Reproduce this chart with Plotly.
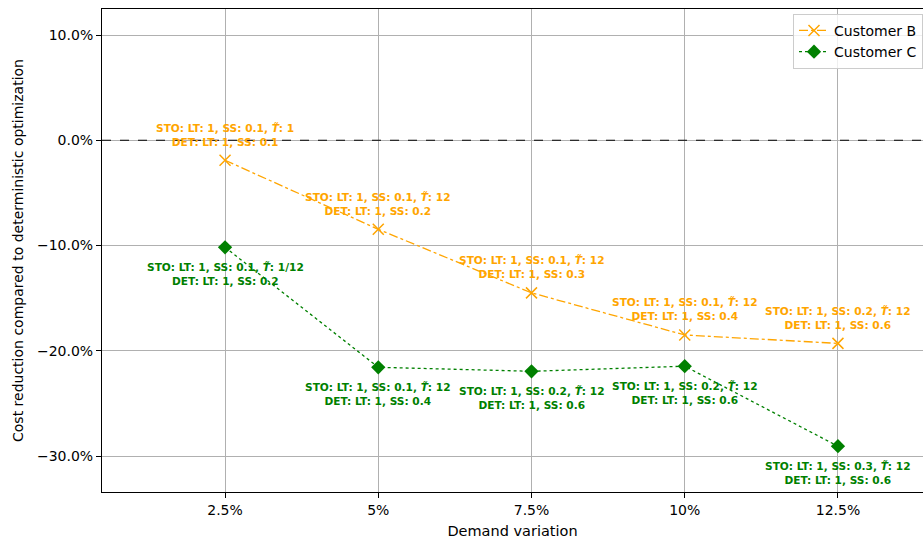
import plotly.graph_objects as go

categories = ["2.5%", "5%", "7.5%", "10%", "12.5%"]
cust_b = [-0.019, -0.0846, -0.145, -0.185, -0.193]
cust_c = [-0.1017, -0.2157, -0.2195, -0.2147, -0.2907]

b_sto = ["STO: LT: 1, SS: 0.1, <i>T̃</i>: 1", "STO: LT: 1, SS: 0.1, <i>T̃</i>: 12",
         "STO: LT: 1, SS: 0.1, <i>T̃</i>: 12", "STO: LT: 1, SS: 0.1, <i>T̃</i>: 12",
         "STO: LT: 1, SS: 0.2, <i>T̃</i>: 12"]
b_det = ["DET: LT: 1, SS: 0.1", "DET: LT: 1, SS: 0.2", "DET: LT: 1, SS: 0.3",
         "DET: LT: 1, SS: 0.4", "DET: LT: 1, SS: 0.6"]
c_sto = ["STO: LT: 1, SS: 0.1, <i>T̃</i>: 1/12", "STO: LT: 1, SS: 0.1, <i>T̃</i>: 12",
         "STO: LT: 1, SS: 0.2, <i>T̃</i>: 12", "STO: LT: 1, SS: 0.2, <i>T̃</i>: 12",
         "STO: LT: 1, SS: 0.3, <i>T̃</i>: 12"]
c_det = ["DET: LT: 1, SS: 0.2", "DET: LT: 1, SS: 0.4", "DET: LT: 1, SS: 0.6",
         "DET: LT: 1, SS: 0.6", "DET: LT: 1, SS: 0.6"]

y_ticks = [0.1, 0.0, -0.1, -0.2, -0.3]
y_tick_text = ["10.0%", "0.0%", "\u221210.0%", "\u221220.0%", "\u221230.0%"]

ORANGE = "#FFA500"
GREEN = "#008000"
FONT = "DejaVu Sans"

xpos = list(range(len(categories)))

fig = go.Figure()
fig.add_trace(go.Scatter(
    x=xpos, y=cust_b, mode="lines+markers", name="Customer B",
    line=dict(color=ORANGE, width=1.3, dash="dashdot"),
    marker=dict(symbol="x-thin", size=11, line=dict(color=ORANGE, width=1.5), color=ORANGE),
))
fig.add_trace(go.Scatter(
    x=xpos, y=cust_c, mode="lines+markers", name="Customer C",
    line=dict(color=GREEN, width=1.3, dash="dot"),
    marker=dict(symbol="diamond", size=11, color=GREEN),
))

fig.add_shape(type="line", xref="paper", x0=0, x1=1, yref="y", y0=0, y1=0,
              line=dict(color="black", width=1.2, dash="dash"), layer="above")

for i in xpos:
    fig.add_annotation(x=i, y=cust_b[i], text=f"<b>{b_sto[i]}</b><br><b>{b_det[i]}</b>",
                       showarrow=False, yshift=25.5, font=dict(family=FONT, size=10.6, color=ORANGE))
    fig.add_annotation(x=i, y=cust_c[i], text=f"<b>{c_sto[i]}</b><br><b>{c_det[i]}</b>",
                       showarrow=False, yshift=-26.5, font=dict(family=FONT, size=10.6, color=GREEN))

fig.update_layout(
    width=923, height=543,
    margin=dict(l=102, r=0, t=9, b=51),
    plot_bgcolor="white", paper_bgcolor="white",
    font=dict(family=FONT, size=14, color="black"),
    showlegend=True,
    legend=dict(x=1.0, y=0.99, xanchor="right", yanchor="top",
                bgcolor="rgba(255,255,255,0.8)", bordercolor="#cccccc", borderwidth=1,
                font=dict(family=FONT, size=14), tracegroupgap=0),
)
fig.update_xaxes(
    range=[-0.803, 4.555], tickvals=xpos, ticktext=categories,
    showgrid=True, gridcolor="#b0b0b0", gridwidth=1,
    showline=True, linecolor="black", linewidth=1, mirror=True,
    ticks="outside", ticklen=5, tickcolor="black", zeroline=False,
    tickfont=dict(family=FONT, size=14),
    title=dict(text="Demand variation", font=dict(family=FONT, size=14.5), standoff=9),
)
fig.update_yaxes(
    range=[-0.3342, 0.1247], tickvals=y_ticks, ticktext=y_tick_text,
    showgrid=True, gridcolor="#b0b0b0", gridwidth=1,
    showline=True, linecolor="black", linewidth=1, mirror=False,
    ticks="outside", ticklen=5, tickcolor="black", zeroline=False,
    tickfont=dict(family=FONT, size=14),
    title=dict(text="Cost reduction compared to deterministic optimization",
               font=dict(family=FONT, size=14), standoff=10),
)

fig.write_html("out.html", config={"displayModeBar": False},
               post_script="document.body.style.margin='0';document.body.style.overflow='hidden';")
